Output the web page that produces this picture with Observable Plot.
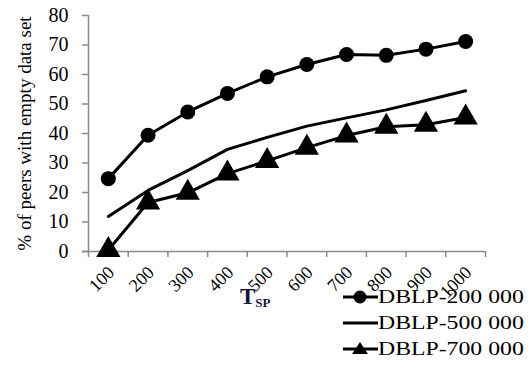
<!DOCTYPE html>
<html>
<head>
<meta charset="utf-8">
<script src="https://cdn.jsdelivr.net/npm/d3@7"></script>
<script src="https://cdn.jsdelivr.net/npm/@observablehq/plot@0.6"></script>
<style>
  body { margin: 0; background: #fff; }
  #wrap { position: relative; width: 528px; height: 391px; font-family: "Liberation Serif", "Times New Roman", serif; }
  #xlabel { position: absolute; left: 240px; top: 284px; font-size: 23px; font-weight: bold; color: #14143c; }
  #xlabel sub { font-size: 13px; vertical-align: -3px; }
  #legend { position: absolute; left: 343px; top: 284px; }
  .row { height: 26px; display: flex; align-items: center; white-space: nowrap; }
  .row span { font-size: 19px; display: inline-block; transform: scaleX(1.25); transform-origin: left center; color: #000; }
</style>
</head>
<body>
<div id="wrap"><div id="xlabel">T<sub>SP</sub></div><div id="legend"></div></div>
<script>
const categories = [100, 200, 300, 400, 500, 600, 700, 800, 900, 1000];
const seriesNames = ["DBLP-200 000", "DBLP-500 000", "DBLP-700 000"];
const s200 = [24.7, 39.4, 47.3, 53.6, 59.2, 63.4, 66.8, 66.5, 68.6, 71.2];
const s500 = [11.9, 20.7, 27.4, 34.6, 38.7, 42.5, 45.3, 48.0, 51.2, 54.5];
const s700 = [0.5, 16.6, 19.9, 26.4, 30.7, 35.2, 39.3, 42.3, 43.0, 45.4];
const yTicks = [0, 10, 20, 30, 40, 50, 60, 70, 80];
const yLabel = "% of peers with empty data set";

const seriesValues = [s200, s500, s700];
const data = seriesNames.flatMap((name, si) =>
  categories.map((c, i) => ({series: name, x: c, y: seriesValues[si][i]})));
const step = categories[1] - categories[0];
const boundaries = [categories[0] - step / 2, ...categories.map(c => c + step / 2)];
const gray = "#8a8a8a";
const font = "Liberation Serif";

const chart = Plot.plot({
  width: 528,
  height: 391,
  marginLeft: 88,
  marginRight: 43,
  marginTop: 15,
  marginBottom: 140,
  style: {fontFamily: font, background: "transparent", overflow: "visible"},
  x: {type: "linear", domain: [boundaries[0], boundaries[boundaries.length - 1]], axis: null},
  y: {domain: [0, 80], axis: null},
  marks: [
    Plot.ruleX([boundaries[0]], {x: d => d, y1: 0, y2: 80, stroke: gray, strokeWidth: 1.5}),
    Plot.ruleY([0], {y: d => d, stroke: gray, strokeWidth: 1.5, insetLeft: -6}),
    Plot.ruleX(boundaries, {x: d => d, y1: 0, y2: 0, stroke: gray, strokeWidth: 1.5, insetBottom: -6}),
    Plot.axisY({ticks: yTicks, tickSize: 6, tickPadding: 14, stroke: gray, strokeWidth: 1.5, fontSize: 20, color: "#000", label: null}),
    Plot.text(categories, {x: d => d, y: 0, text: d => String(d), rotate: -45, textAnchor: "end", dx: 3, dy: 18, fontSize: 18, fill: "#000"}),
    Plot.text([yLabel], {frameAnchor: "left", text: d => d, rotate: -90, textAnchor: "middle", dx: -64, fontSize: 19, fill: "#000"}),
    Plot.line(data, {x: "x", y: "y", z: "series", stroke: "#000", strokeWidth: 3}),
    Plot.dot(data.filter(d => d.series === seriesNames[0]), {x: "x", y: "y", r: 7.5, fill: "#000", symbol: "circle"}),
    Plot.dot(data.filter(d => d.series === seriesNames[2]), {x: "x", y: "y", r: 9, fill: "#000", symbol: "triangle"})
  ]
});
document.getElementById("wrap").prepend(chart);

const legend = document.getElementById("legend");
const symbols = ["circle", "none", "triangle"];
seriesNames.forEach((name, i) => {
  const row = document.createElement("div");
  row.className = "row";
  let marker = "";
  if (symbols[i] === "circle") marker = '<circle cx="17" cy="10" r="6.5" fill="#000"/>';
  if (symbols[i] === "triangle") marker = '<path d="M17,3 L25,15 L9,15 Z" fill="#000"/>';
  row.innerHTML = `<svg width="35" height="20"><line x1="0" x2="35" y1="10" y2="10" stroke="#000" stroke-width="3"/>${marker}</svg><span>${name}</span>`;
  legend.appendChild(row);
});
</script>
</body>
</html>
